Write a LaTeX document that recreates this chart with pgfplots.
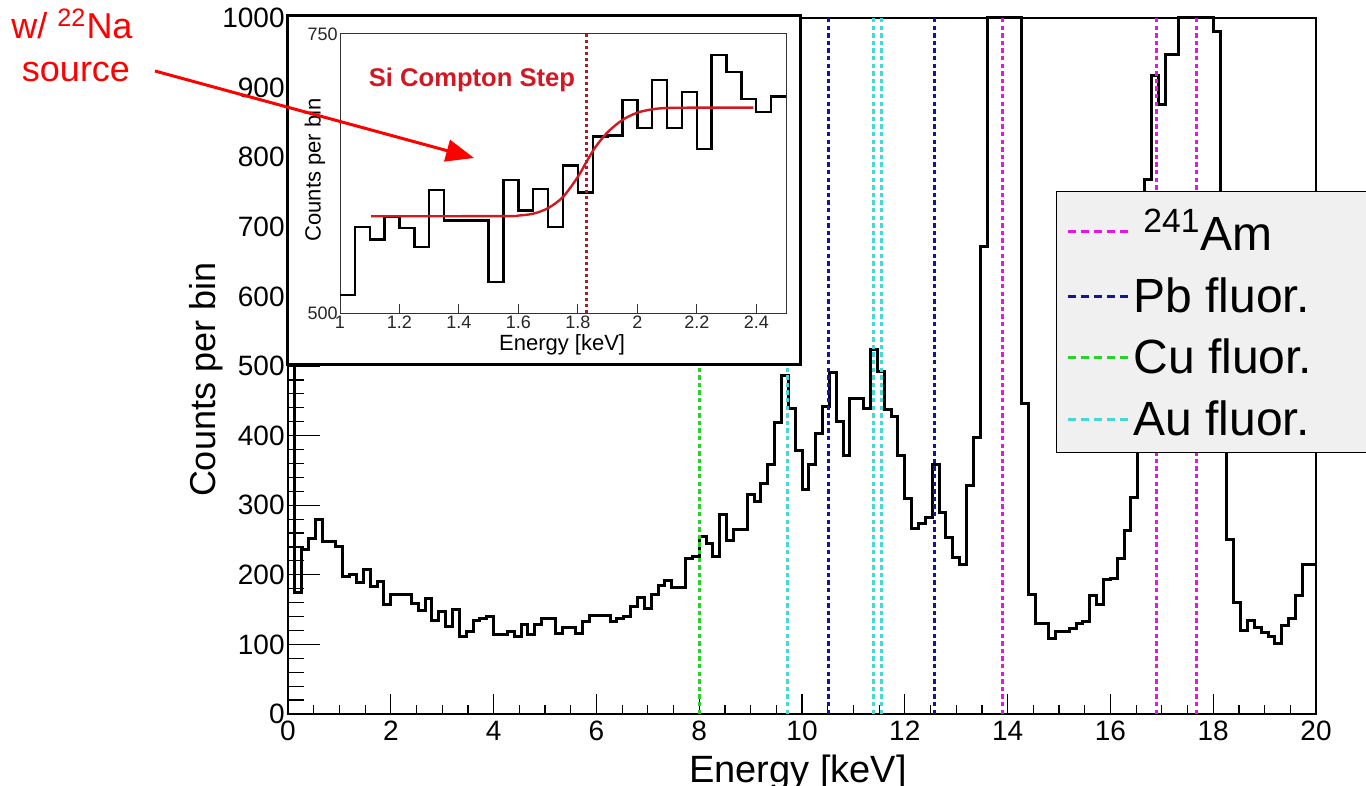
\documentclass[border=0pt]{standalone}
\usepackage{fontspec}
\setmainfont{Liberation Sans}
\usepackage{pgfplots}
\usepackage{pgfplotstable}
\pgfplotsset{compat=1.18}
\usetikzlibrary{arrows.meta}
\definecolor{amc}{RGB}{230,20,230}
\definecolor{pbc}{RGB}{20,20,150}
\definecolor{cuc}{RGB}{40,210,40}
\definecolor{auc}{RGB}{70,215,215}
\definecolor{fitred}{RGB}{210,25,35}
\definecolor{stepred}{RGB}{170,30,40}
\definecolor{leggray}{RGB}{240,240,240}

\pgfplotstableread{
x y
0 1000
0.1333 175
0.2667 236
0.4 252
0.5333 279
0.6667 248
0.8 248
0.9333 240
1.0667 197
1.2 201
1.3333 189
1.4667 208
1.6 183
1.7333 190
1.8667 157
2.0 172
2.1333 171
2.2667 171
2.4 159
2.5333 149
2.6667 166
2.8 135
2.9333 147
3.0667 126
3.2 150
3.3333 111
3.4667 118
3.6 135
3.7333 137
3.8667 140
4.0 114
4.1333 114
4.2667 118
4.4 111
4.5333 129
4.6667 114
4.8 128
4.9333 137
5.0667 137
5.2 116
5.3333 124
5.4667 124
5.6 116
5.7333 133
5.8667 142
6.0 142
6.1333 141
6.2667 133
6.4 137
6.5333 140
6.6667 154
6.8 168
6.9333 152
7.0667 171
7.2 185
7.3333 192
7.4667 182
7.6 182
7.7333 224
7.8667 226
8.0 255
8.1333 245
8.2667 227
8.4 286
8.5333 250
8.6667 265
8.8 265
8.9333 315
9.0667 305
9.2 331
9.3333 359
9.4667 419
9.6 486
9.7333 439
9.8667 378
10.0 323
10.1333 358
10.2667 403
10.4 442
10.5333 490
10.6667 420
10.8 372
10.9333 454
11.0667 454
11.2 439
11.3333 524
11.4667 492
11.6 437
11.7333 427
11.8667 371
12.0 309
12.1333 267
12.2667 274
12.4 283
12.5333 358
12.6667 290
12.8 254
12.9333 225
13.0667 215
13.2 329
13.3333 397
13.4667 671
13.6 1000
13.7333 1000
13.8667 1000
14.0 1000
14.1333 1000
14.2667 446
14.4 172
14.5333 130
14.6667 130
14.8 109
14.9333 119
15.0667 119
15.2 123
15.3333 130
15.4667 133
15.6 170
15.7333 158
15.8667 193
16.0 195
16.1333 224
16.2667 264
16.4 311
16.5333 520
16.6667 768
16.8 918
16.9333 876
17.0667 948
17.2 948
17.3333 1000
17.4667 1000
17.6 1000
17.7333 1000
17.8667 1000
18.0 980
18.1333 550
18.2667 251
18.4 160
18.5333 120
18.6667 134
18.8 124
18.9333 117
19.0667 111
19.2 101
19.3333 127
19.4667 137
19.6 170
19.7333 215
19.8667 215
20.0 215
}\mainhist

\pgfplotstableread{
x y
1.00 516
1.05 577
1.10 566
1.15 586
1.20 576
1.25 559
1.30 610
1.35 583
1.40 583
1.45 583
1.50 528
1.55 619
1.60 592
1.65 611
1.70 577
1.75 632
1.80 608
1.85 658
1.90 659
1.95 691
2.00 666
2.05 709
2.10 666
2.15 698
2.20 647
2.25 731
2.30 716
2.35 692
2.40 680
2.45 694
2.50 694
}\insethist

\pgfplotstableread{
x y
1.105 586.7
1.55 586.8
1.60 587.3
1.65 589
1.70 594
1.75 604
1.80 622
1.83 636
1.86 649
1.90 662
1.95 673
2.00 679.5
2.05 682.5
2.10 683.7
2.20 684
2.39 684
}\fitcurve

\begin{document}
\begin{tikzpicture}
\path[use as bounding box] (0pt,0pt) rectangle (683pt,-393pt);
\begin{axis}[
  at={(144pt,-357pt)}, anchor=south west,
  width=514pt, height=348pt, scale only axis,
  xmin=0, xmax=20, ymin=0, ymax=1000,
  clip=false,
  axis line style={line width=0.8pt},
  xtick={0,2,...,20}, ytick={0,100,...,1000},
  minor x tick num=3, minor y tick num=4,
  tick align=inside, xtick pos=left, ytick pos=left,
  major tick length=16pt, minor tick length=8pt,
  xtick style={/pgfplots/major tick length=10pt,/pgfplots/minor tick length=4.5pt, line width=0.6pt, black},
  ytick style={/pgfplots/major tick length=16pt,/pgfplots/minor tick length=8pt, line width=0.6pt, black},
  /pgf/number format/assume math mode=true,
  /pgf/number format/1000 sep={},
  ticklabel style={font=\fontsize{14}{16}\selectfont},
  yticklabel style={inner sep=1.5pt},
  xlabel={Energy [keV]},
  xlabel style={font=\fontsize{19}{22}\selectfont, at={(axis description cs:0.496,-0.098)}, anchor=base},
  ylabel={Counts per bin},
  ylabel style={font=\fontsize{18}{22}\selectfont, at={(axis description cs:-0.0798,0.48)}, anchor=center},
  legend style={at={(rel axis cs:0.751,0.738)}, anchor=north west, draw=none, fill=none,
    font=\fontsize{24}{28}\selectfont, row sep=8pt},
  legend cell align=left,
  legend image code/.code={\draw[#1, line width=1.5pt] (0pt,0pt) -- (30pt,0pt);},
]
\addplot[const plot, black, line width=1.5pt, forget plot] table {\mainhist};
\addplot[amc, line width=1.5pt, dash pattern=on 2.2pt off 1.6pt, forget plot] coordinates {(13.9,0) (13.9,1000)};
\addplot[amc, line width=1.5pt, dash pattern=on 2.2pt off 1.6pt, forget plot] coordinates {(16.9,0) (16.9,1000)};
\addplot[amc, line width=1.5pt, dash pattern=on 2.2pt off 1.6pt, forget plot] coordinates {(17.68,0) (17.68,1000)};
\addplot[pbc, line width=1.5pt, dash pattern=on 2.2pt off 1.6pt, forget plot] coordinates {(10.52,0) (10.52,1000)};
\addplot[pbc, line width=1.5pt, dash pattern=on 2.2pt off 1.6pt, forget plot] coordinates {(12.57,0) (12.57,1000)};
\addplot[cuc, line width=1.5pt, dash pattern=on 2.2pt off 1.6pt, forget plot] coordinates {(8.01,0) (8.01,1000)};
\addplot[auc, line width=1.5pt, dash pattern=on 2.2pt off 1.6pt, forget plot] coordinates {(9.71,0) (9.71,1000)};
\addplot[auc, line width=1.5pt, dash pattern=on 2.2pt off 1.6pt, forget plot] coordinates {(11.40,0) (11.40,1000)};
\addplot[auc, line width=1.5pt, dash pattern=on 2.2pt off 1.6pt, forget plot] coordinates {(11.54,0) (11.54,1000)};
\filldraw[fill=leggray, draw=black, line width=0.5pt] (rel axis cs:0.748,0.75) rectangle (rel axis cs:1.09,0.3764);
\addlegendimage{amc, dash pattern=on 4pt off 2.5pt}
\addlegendentry{\hspace*{5pt}\textsuperscript{241}Am}
\addlegendimage{pbc, dash pattern=on 4pt off 2.5pt}
\addlegendentry{Pb fluor.}
\addlegendimage{cuc, dash pattern=on 4pt off 2.5pt}
\addlegendentry{Cu fluor.}
\addlegendimage{auc, dash pattern=on 4pt off 2.5pt}
\addlegendentry{Au fluor.}
\end{axis}

\fill[white] (143.5pt,-8pt) rectangle (400pt,-182.5pt);
\draw[line width=1.5pt] (143.5pt,-8pt) rectangle (400pt,-182.5pt);

\begin{axis}[
  at={(170pt,-156.5pt)}, anchor=south west,
  width=223pt, height=139.5pt, scale only axis,
  xmin=1, xmax=2.5, ymin=500, ymax=750,
  axis line style={line width=0.5pt, gray!40!black},
  xtick={1,1.2,1.4,1.6,1.8,2,2.2,2.4},
  xticklabels={1,1.2,1.4,1.6,1.8,2,2.2,2.4},
  ytick={500,750}, yticklabels={500,750},
  xtick pos=left, ytick pos=left, tick align=inside,
  major tick length=4.5pt, ytick style={draw=none},
  xtick style={line width=0.5pt, gray!40!black},
  ticklabel style={font=\fontsize{9}{10}\selectfont, text=gray!30!black},
  yticklabel style={inner sep=1pt},
  xticklabel style={inner sep=1.5pt},
  xlabel={Energy [keV]}, ylabel={Counts per bin},
  label style={font=\fontsize{11}{13}\selectfont},
  xlabel style={at={(axis description cs:0.498,-0.136)}, anchor=base},
  ylabel style={at={(axis description cs:-0.056,0.513)}, anchor=center},
]
\addplot[const plot, black, line width=1.2pt] table {\insethist};
\addplot[fitred, line width=1.2pt, smooth] table {\fitcurve};
\addplot[stepred, line width=1.3pt, dash pattern=on 1.6pt off 1.4pt] coordinates {(1.83,500) (1.83,750)};
\node[font=\bfseries\fontsize{12.8}{14}\selectfont, text=fitred] at (axis cs:1.444,708.8) {Si Compton Step};
\end{axis}

\draw[red, line width=1.5pt, -{Triangle[length=14pt,width=11pt]}] (77.5pt,-35.5pt) -- (237pt,-79pt);
\node[text=red, anchor=base, font=\fontsize{18}{22}\selectfont] at (36pt,-19.5pt) {w/ \textsuperscript{22}Na};
\node[text=red, anchor=base, font=\fontsize{18}{22}\selectfont] at (38pt,-41pt) {source};
\end{tikzpicture}
\end{document}
